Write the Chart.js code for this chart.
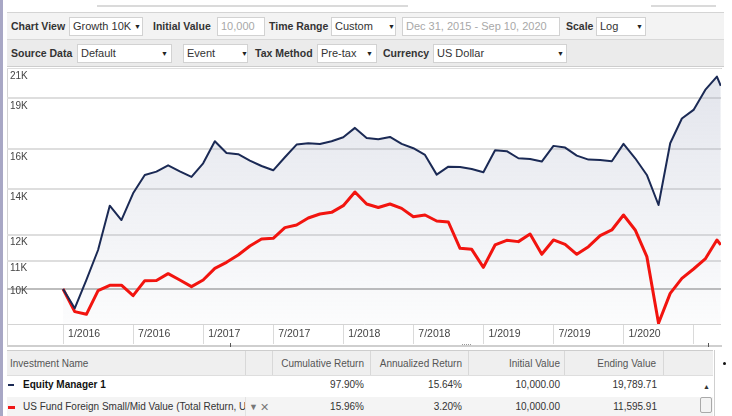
<!DOCTYPE html>
<html lang="en">
<head>
<meta charset="UTF-8">
<title>Growth 10K</title>
<style>
  body { margin: 0; width: 732px; height: 416px; overflow: hidden; background: #fff; position: relative;
         font-family: "Liberation Sans", Arial, sans-serif; color: #333; }
  .a { position: absolute; }
  .lbl { position: absolute; font-weight: bold; font-size: 10.5px; line-height: 12px; color: #333; white-space: nowrap; }
  .box { position: absolute; height: 19px; box-sizing: border-box; background: #fff; border: 1px solid #d2d2d2;
         font-size: 11px; line-height: 17px; padding-left: 3px; white-space: nowrap; color: #333; }
  .box.grey { color: #a8a8a8; }
  .arr { position: absolute; top: 0; font-size: 7px; color: #222; }
  .txt { position: absolute; font-size: 10px; line-height: 12px; white-space: nowrap; }
  .r { text-align: right; }
  .vline { position: absolute; width: 1px; background: #d8d8d8; }
</style>
</head>
<body>
  <!-- frame bits -->
  <div class="a" style="left:0;top:0;width:3px;height:416px;background:#a8a7c5"></div>
  <div class="a" style="left:97px;top:5px;width:311px;height:2px;background:#dadada"></div>
  <div class="a" style="left:651px;top:5px;width:65px;height:2px;background:#dadada"></div>

  <!-- toolbar -->
  <div class="a" style="left:7px;top:12px;width:717px;height:26px;background:#f3f3f3;border-top:1px solid #d4d4d4"></div>
  <div class="a" style="left:7px;top:39px;width:717px;height:26px;background:#ebebeb;border-top:1px solid #d8d8d8;border-bottom:1px solid #cdcdcd"></div>

  <div class="lbl" style="left:11px;top:20px">Chart View</div>
  <div class="box" style="left:69px;top:17px;width:74px">Growth 10K<span class="arr" style="left:64px">▼</span></div>
  <div class="lbl" style="left:153px;top:20px">Initial Value</div>
  <div class="box grey" style="left:217px;top:17px;width:48px">10,000</div>
  <div class="lbl" style="left:269px;top:20px">Time Range</div>
  <div class="box" style="left:331px;top:17px;width:65px">Custom<span class="arr" style="left:56px">▼</span></div>
  <div class="box grey" style="left:402px;top:17px;width:158px">Dec 31, 2015 - Sep 10, 2020</div>
  <div class="lbl" style="left:566px;top:20px">Scale</div>
  <div class="box" style="left:596px;top:17px;width:50px">Log<span class="arr" style="left:39px">▼</span></div>

  <div class="lbl" style="left:11px;top:47px">Source Data</div>
  <div class="box" style="left:77px;top:44px;width:95px">Default<span class="arr" style="left:83px">▼</span></div>
  <div class="box" style="left:183px;top:44px;width:65px">Event<span class="arr" style="left:57px">▼</span></div>
  <div class="lbl" style="left:255px;top:47px">Tax Method</div>
  <div class="box" style="left:317px;top:44px;width:60px">Pre-tax<span class="arr" style="left:48px">▼</span></div>
  <div class="lbl" style="left:383px;top:47px">Currency</div>
  <div class="box" style="left:433px;top:44px;width:134px">US Dollar<span class="arr" style="left:123px">▼</span></div>

  <!-- chart frame -->
  <div class="a" style="left:7px;top:68px;width:714px;height:276px;border-top:1px solid #d4d4d4;border-left:1px solid #d4d4d4;border-bottom:2px solid #cfcfcf"></div>
  <canvas id="growthChart" width="714" height="280" class="a" style="left:7px;top:68px"></canvas>
  <div class="a" style="left:230px;top:343px;width:1px;height:4px;background:#555"></div>
  <div class="a" style="left:708px;top:343px;width:1px;height:4px;background:#555"></div>
  <div class="a" style="left:462px;top:344px;width:9px;height:0;border-top:1px dotted #999"></div>

  <!-- table -->
  <div class="a" style="left:7px;top:350px;width:706px;height:24px;background:#efefef;border-top:1px solid #cdcdcd;border-bottom:1px solid #dedede"></div>
  <div class="a" style="left:7px;top:376px;width:706px;height:21px;background:#fff"></div>
  <div class="a" style="left:7px;top:397px;width:706px;height:19px;background:#f4f4f4"></div>
  <div class="vline" style="left:245px;top:351px;height:24px"></div>
  <div class="vline" style="left:272px;top:351px;height:24px"></div>
  <div class="vline" style="left:370px;top:351px;height:24px"></div>
  <div class="vline" style="left:468px;top:351px;height:24px"></div>
  <div class="vline" style="left:564px;top:351px;height:24px"></div>
  <div class="vline" style="left:663px;top:351px;height:24px"></div>
  <div class="vline" style="left:245px;top:397px;height:19px;background:#e2e2e2"></div>
  <div class="vline" style="left:714px;top:350px;height:66px;background:#cfcfcf"></div>
  <div class="a" style="left:723px;top:362px;width:3px;height:3px;border-radius:2px;background:#111"></div>

  <div class="txt" style="left:10px;top:358px;color:#555">Investment Name</div>
  <div class="txt r" style="left:270px;width:94px;top:358px;color:#555">Cumulative Return</div>
  <div class="txt r" style="left:370px;width:92px;top:358px;color:#555">Annualized Return</div>
  <div class="txt r" style="left:470px;width:90px;top:358px;color:#555">Initial Value</div>
  <div class="txt r" style="left:566px;width:90px;top:358px;color:#555">Ending Value</div>

  <div class="a" style="left:8px;top:384px;width:6px;height:2px;background:#1b2a55"></div>
  <div class="txt" style="left:23px;top:379px;font-weight:bold;color:#111">Equity Manager 1</div>
  <div class="txt r" style="left:270px;width:94px;top:379px">97.90%</div>
  <div class="txt r" style="left:370px;width:92px;top:379px">15.64%</div>
  <div class="txt r" style="left:470px;width:90px;top:379px">10,000.00</div>
  <div class="txt r" style="left:566px;width:91px;top:379px">19,789.71</div>

  <div class="a" style="left:8px;top:406px;width:7px;height:3px;background:#f01818"></div>
  <div class="txt" style="left:23px;top:401px;width:222px;overflow:hidden">US Fund Foreign Small/Mid Value (Total Return, USD)</div>
  <div class="txt" style="left:249px;top:401px;font-size:9px;color:#777">▼</div>
  <div class="txt" style="left:260px;top:401px;font-size:11px;color:#777">✕</div>
  <div class="txt r" style="left:270px;width:94px;top:401px">15.96%</div>
  <div class="txt r" style="left:370px;width:92px;top:401px">3.20%</div>
  <div class="txt r" style="left:470px;width:90px;top:401px">10,000.00</div>
  <div class="txt r" style="left:566px;width:91px;top:401px">11,595.91</div>

  <!-- scrollbar -->
  <div class="txt" style="left:703px;top:381px;font-size:7px;color:#333">▲</div>
  <div class="a" style="left:700px;top:397px;width:12px;height:16px;box-sizing:border-box;border:1px solid #a9a9a9;border-radius:2px;background:#f3f3f3"></div>

  <script src="https://cdn.jsdelivr.net/npm/chart.js"></script>
  <script>
    // month-end index from Dec 31, 2015 (0) to Aug 31, 2020 (56), last point Sep 10, 2020
    const months = [0, 1, 2, 3, 4, 5, 6, 7, 8, 9, 10, 11, 12, 13, 14, 15, 16, 17, 18, 19,
      20, 21, 22, 23, 24, 25, 26, 27, 28, 29, 30, 31, 32, 33, 34, 35, 36, 37, 38, 39,
      40, 41, 42, 43, 44, 45, 46, 47, 48, 49, 50, 51, 52, 53, 54, 55, 56, 56.33];

    const equityManager = [10000, 9371, 10307, 11400, 13231, 12607, 13792, 14669, 14834, 15153,
      14851, 14571, 15255, 16430, 15797, 15727, 15393, 15119, 14901, 15568,
      16247, 16320, 16283, 16430, 16652, 17183, 16615, 16541, 16670, 16283,
      16048, 15692, 14686, 15085, 15068, 14968, 14801, 15940, 15887, 15516,
      15481, 15343, 16175, 16084, 15656, 15446, 15429, 15360, 16283, 15516,
      14669, 13261, 16320, 17731, 18255, 19520, 20417, 19790];

    const foreignSmallMid = [10000, 9267, 9184, 9944, 10124, 10130, 9778, 10284, 10290, 10529,
      10307, 10079, 10307, 10719, 10937, 11210, 11555, 11831, 11857, 12290,
      12400, 12693, 12865, 12937, 13231, 13854, 13306, 13150, 13306, 13112,
      12750, 12822, 12566, 12524, 11465, 11426, 10755, 11594, 11778, 11725,
      12030, 11236, 11791, 11619, 11236, 11529, 11963, 12194, 12822, 12194,
      11149, 8911, 9855, 10365, 10695, 11061, 11791, 11596];

    const tickMonths = [0, 6, 12, 18, 24, 30, 36, 42, 48, 54];
    const tickLabels = ['1/2016', '7/2016', '1/2017', '7/2017', '1/2018', '7/2018', '1/2019', '7/2019', '1/2020', ''];
    const yTicks = [10000, 11000, 12000, 14000, 16000, 19000, 21000];
    const yTickLabels = [['10K', ''], '11K', '12K', '14K', '16K', '19K', '21K'];

    const font = '"Liberation Sans", Arial, sans-serif';

    function areaFill(context) {
      const area = context.chart.chartArea;
      if (!area) return 'rgba(150,158,185,0.15)';
      const g = context.chart.ctx.createLinearGradient(0, area.top, 0, area.bottom);
      g.addColorStop(0, 'rgba(150,158,185,0.28)');
      g.addColorStop(1, 'rgba(150,158,185,0.03)');
      return g;
    }

    function noPadding(s) {
      s.paddingTop = 0;
      s.paddingBottom = 0;
      s.paddingLeft = 0;
      s.paddingRight = 0;
    }

    new Chart(document.getElementById('growthChart'), {
      type: 'line',
      data: {
        datasets: [{
          label: 'Equity Manager 1',
          data: equityManager.map((v, i) => ({ x: months[i], y: v })),
          borderColor: '#1b2a55',
          borderWidth: 2,
          backgroundColor: areaFill,
          fill: 'start'
        }, {
          label: 'US Fund Foreign Small/Mid Value',
          data: foreignSmallMid.map((v, i) => ({ x: months[i], y: v })),
          borderColor: '#f2140f',
          borderWidth: 3,
          fill: false
        }]
      },
      options: {
        responsive: false,
        animation: false,
        layout: { padding: 0 },
        elements: { point: { radius: 0 }, line: { tension: 0, borderJoinStyle: 'round' } },
        plugins: {
          legend: { display: false },
          tooltip: { enabled: false },
          filler: { drawTime: 'beforeDatasetsDraw' }
        },
        scales: {
          x: {
            type: 'linear',
            min: -4.8,
            max: 56.35,
            afterBuildTicks: s => { s.ticks = tickMonths.map(v => ({ value: v })); },
            afterFit: s => { s.height = 24; noPadding(s); },
            grid: { drawOnChartArea: false, drawTicks: true, tickLength: 20, color: '#dadada', lineWidth: 1 },
            border: { display: true, color: '#d4d4d4', width: 1 },
            ticks: {
              align: 'start', labelOffset: 5, padding: -16, maxRotation: 0, autoSkip: false,
              color: '#444', font: { family: font, size: 10.5 },
              callback: (v, i) => tickLabels[i]
            }
          },
          y: {
            type: 'logarithmic',
            min: 8890,
            max: 21014,
            afterBuildTicks: s => { s.ticks = yTicks.map(v => ({ value: v })); },
            afterFit: s => { s.width = 0; noPadding(s); },
            grid: {
              drawTicks: false,
              lineWidth: 2,
              color: c => (c.tick && c.tick.value === 10000) ? '#bdbdbd' : '#dedede'
            },
            border: { display: false },
            ticks: {
              mirror: true, padding: 3, labelOffset: 8,
              color: '#444', font: { family: font, size: 10 },
              callback: (v, i) => yTickLabels[i]
            }
          }
        }
      }
    });
  </script>
</body>
</html>
